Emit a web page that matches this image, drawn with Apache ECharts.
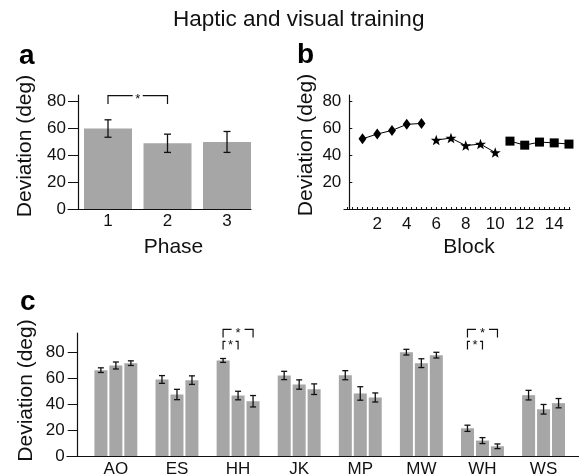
<!DOCTYPE html>
<html>
<head>
<meta charset="utf-8">
<script src="https://cdn.jsdelivr.net/npm/echarts@6/dist/echarts.min.js"></script>
<style>
  html, body { margin: 0; padding: 0; background: #fff; }
  #main { width: 579px; height: 476px; }
</style>
</head>
<body>
<div id="main"></div>
<script>
const FONT = '"Liberation Sans", Arial, Helvetica, sans-serif';
const BarColor = '#a6a6a6';
const Ink = '#111111';

// panel a: deviation per phase
const phases = [1, 2, 3];
const phaseMean = [60, 49, 50];
const phaseErr = [6.5, 6.8, 7.8];
// [from x, to x, bracket top, tick end]
const phaseSig = [[1, 2, 84.5, 78.3]];

// panel b: deviation per block
const blocksDiamond = [1, 2, 3, 4, 5];
const devDiamond = [52.3, 55.9, 58.6, 63.1, 63.8];
const blocksStar = [6, 7, 8, 9, 10];
const devStar = [51.4, 52.9, 47.3, 48.4, 42.1];
const blocksSquare = [11, 12, 13, 14, 15];
const devSquare = [50.6, 47.6, 49.9, 49.3, 48.4];
const blockLabels = [2, 4, 6, 8, 10, 12, 14];

// panel c: deviation per subject, one row per phase
const subjects = ['AO', 'ES', 'HH', 'JK', 'MP', 'MW', 'WH', 'WS'];
const subjMean = [
  [66.3, 59.1, 73.8, 62.2, 62.4, 80.2, 21.4, 47.0],
  [69.9, 47.5, 46.7, 55.2, 48.3, 71.7, 11.9, 36.1],
  [71.7, 58.6, 42.3, 51.6, 45.2, 77.9, 7.5, 40.8]
];
const subjErr = [
  [1.8, 3.0, 1.5, 3.2, 3.5, 2.2, 2.4, 3.7],
  [2.7, 4.0, 3.3, 3.6, 5.2, 3.4, 2.3, 3.7],
  [1.8, 3.3, 4.4, 4.1, 3.5, 2.2, 1.8, 3.6]
];
// [subject, from phase, to phase, bracket top, tick end]
const subjSig = [
  [2, 1, 3, 97.8, 91.6], [2, 1, 2, 88.5, 82.3],
  [6, 1, 3, 97.8, 91.6], [6, 1, 2, 88.5, 82.3]
];

const devTicks = [0, 20, 40, 60, 80];
const BarStep = 15; // px between bars of a subject group

var chart = echarts.init(document.getElementById('main'));

function errRender(capW, withPhase) {
  return function (params, api) {
    var x = api.value(0);
    var m = api.value(1), e = api.value(2);
    var dx = withPhase ? (api.value(3) - 2) * BarStep : 0;
    var top = api.coord([x, m + e]);
    var bot = api.coord([x, m - e]);
    var cx = top[0] + dx;
    var st = { stroke: Ink, lineWidth: 1.3 };
    return {
      type: 'group',
      children: [
        { type: 'line', shape: { x1: cx, y1: top[1], x2: cx, y2: bot[1] }, style: st },
        { type: 'line', shape: { x1: cx - capW / 2, y1: top[1], x2: cx + capW / 2, y2: top[1] }, style: st },
        { type: 'line', shape: { x1: cx - capW / 2, y1: bot[1], x2: cx + capW / 2, y2: bot[1] }, style: st }
      ]
    };
  };
}

function bracketShape(xa, xb, yt, yb, gap) {
  var mid = (xa + xb) / 2;
  var st = { stroke: Ink, lineWidth: 1.2, fill: null };
  return {
    type: 'group',
    children: [
      { type: 'polyline', shape: { points: [[xa, yb], [xa, yt], [mid - gap / 2, yt]] }, style: st },
      { type: 'polyline', shape: { points: [[mid + gap / 2, yt], [xb, yt], [xb, yb]] }, style: st },
      { type: 'text', x: mid, y: yt + 4, style: { text: '*', font: '13px ' + FONT, align: 'center', verticalAlign: 'middle', fill: Ink } }
    ]
  };
}

function sigRenderA(params, api) {
  var p1 = api.coord([api.value(0), api.value(2)]);
  var p2 = api.coord([api.value(1), api.value(3)]);
  return bracketShape(p1[0], p2[0], p1[1], p2[1], 10);
}

function sigRenderC(params, api) {
  var g = api.value(0);
  var p1 = api.coord([g, api.value(3)]);
  var p2 = api.coord([g, api.value(4)]);
  var xa = p1[0] + (api.value(1) - 2) * BarStep;
  var xb = p1[0] + (api.value(2) - 2) * BarStep;
  var gap = api.value(2) - api.value(1) > 1 ? 13 : 10;
  return bracketShape(xa, xb, p1[1], p2[1], gap);
}

var axisLine = { show: true, onZero: false, lineStyle: { color: Ink, width: 1.2 } };
var labelStyle = { color: Ink, fontSize: 17, fontFamily: FONT };
var nameStyle = { color: Ink, fontSize: 21, fontFamily: FONT };

var blockTickVals = [];
for (var t = 0; t <= 45; t++) blockTickVals.push(t / 3);

var series = [
  { type: 'bar', xAxisIndex: 0, yAxisIndex: 0, barWidth: 48, itemStyle: { color: BarColor },
    data: phases.map((p, i) => [p, phaseMean[i]]), silent: true },
  { type: 'custom', xAxisIndex: 0, yAxisIndex: 0, renderItem: errRender(7, false), clip: false,
    data: phases.map((p, i) => [p, phaseMean[i], phaseErr[i]]), z: 5 },
  { type: 'custom', xAxisIndex: 0, yAxisIndex: 0, renderItem: sigRenderA, clip: false,
    data: phaseSig, z: 5 },
  { type: 'line', xAxisIndex: 1, yAxisIndex: 1, symbol: 'diamond', symbolSize: [8, 11],
    itemStyle: { color: '#000' }, lineStyle: { color: '#000', width: 1 },
    data: blocksDiamond.map((b, i) => [b, devDiamond[i]]) },
  { type: 'line', xAxisIndex: 1, yAxisIndex: 1,
    symbol: 'path://M0,-10L2.35,-3.24L9.51,-3.09L3.8,1.24L5.88,8.09L0,4L-5.88,8.09L-3.8,1.24L-9.51,-3.09L-2.35,-3.24Z',
    symbolKeepAspect: true, symbolSize: 11,
    itemStyle: { color: '#000' }, lineStyle: { color: '#000', width: 1 },
    data: blocksStar.map((b, i) => [b, devStar[i]]) },
  { type: 'line', xAxisIndex: 1, yAxisIndex: 1, symbol: 'rect', symbolSize: 9,
    itemStyle: { color: '#000' }, lineStyle: { color: '#000', width: 1 },
    data: blocksSquare.map((b, i) => [b, devSquare[i]]) }
];

for (var k = 0; k < 3; k++) {
  series.push({
    type: 'bar', xAxisIndex: 2, yAxisIndex: 2, barWidth: 13, barGap: '15%',
    itemStyle: { color: BarColor },
    data: subjects.map((s, i) => [i, subjMean[k][i]])
  });
}
for (var k2 = 0; k2 < 3; k2++) {
  series.push({
    type: 'custom', xAxisIndex: 2, yAxisIndex: 2, renderItem: errRender(6, true), clip: false, z: 5,
    data: subjects.map((s, i) => [i, subjMean[k2][i], subjErr[k2][i], k2 + 1])
  });
}
series.push({ type: 'custom', xAxisIndex: 2, yAxisIndex: 2, renderItem: sigRenderC, clip: false, z: 5,
  data: subjSig });

var option = {
  animation: false,
  backgroundColor: '#fff',
  textStyle: { fontFamily: FONT },
  title: [
    { text: 'Haptic and visual training', left: 173, top: 8, padding: 0,
      textStyle: { fontSize: 22.5, fontWeight: 'normal', color: Ink, fontFamily: FONT } },
    { text: 'a', left: 19, top: 42, padding: 0, textStyle: { fontSize: 28, fontWeight: 'bold', color: '#000', fontFamily: FONT } },
    { text: 'b', left: 297, top: 41, padding: 0, textStyle: { fontSize: 28, fontWeight: 'bold', color: '#000', fontFamily: FONT } },
    { text: 'c', left: 20, top: 288, padding: 0, textStyle: { fontSize: 28, fontWeight: 'bold', color: '#000', fontFamily: FONT } }
  ],
  grid: [
    { left: 68, top: 95, width: 183, height: 114, outerBoundsMode: 'none' },
    { left: 344, top: 95, width: 226, height: 114, outerBoundsMode: 'none' },
    { left: 67, top: 333, width: 512, height: 123, outerBoundsMode: 'none' }
  ],
  xAxis: [
    { gridIndex: 0, type: 'value', min: 0.328, max: 3.403, axisLine: axisLine,
      axisTick: { show: false }, splitLine: { show: false },
      axisLabel: Object.assign({ customValues: phases, margin: 4 }, labelStyle),
      name: 'Phase', nameLocation: 'middle', nameGap: 28, nameMoveOverlap: false,
      nameTextStyle: Object.assign({ padding: [0, 0, 0, 28] }, nameStyle) },
    { gridIndex: 1, type: 'value', min: -0.254, max: 15.07, axisLine: axisLine,
      axisTick: { show: true, inside: true, length: 2, customValues: blockTickVals, lineStyle: { color: Ink } },
      splitLine: { show: false },
      axisLabel: Object.assign({ customValues: blockLabels, margin: 7 }, labelStyle),
      name: 'Block', nameLocation: 'middle', nameGap: 28, nameMoveOverlap: false,
      nameTextStyle: Object.assign({ padding: [0, 0, 0, 24] }, nameStyle) },
    { gridIndex: 2, type: 'value', min: -0.80, max: 7.58, axisLine: axisLine,
      axisTick: { show: false }, splitLine: { show: false },
      axisLabel: Object.assign({ customValues: subjects.map((s, i) => i), margin: 5,
        formatter: v => subjects[Math.round(v)] || '' }, labelStyle) }
  ],
  yAxis: [
    { gridIndex: 0, type: 'value', min: 0, max: 85, offset: -10, axisLine: axisLine,
      axisTick: { show: true, length: 10, customValues: devTicks, lineStyle: { color: Ink } },
      splitLine: { show: false },
      axisLabel: Object.assign({ customValues: devTicks, margin: 12 }, labelStyle),
      name: 'Deviation (deg)', nameLocation: 'middle', nameRotate: 90, nameGap: 42, nameMoveOverlap: false,
      nameTextStyle: Object.assign({ padding: [0, 0, 0, 12] }, nameStyle) },
    { gridIndex: 1, type: 'value', min: 0, max: 85, offset: -5.3, axisLine: axisLine,
      axisTick: { show: true, inside: true, length: 3, customValues: [20, 40, 60, 80], lineStyle: { color: Ink } },
      splitLine: { show: false },
      axisLabel: Object.assign({ customValues: [20, 40, 60, 80], margin: 8 }, labelStyle),
      name: 'Deviation (deg)', nameLocation: 'middle', nameRotate: 90, nameGap: 33, nameMoveOverlap: false,
      nameTextStyle: Object.assign({ padding: [0, 0, 0, 14] }, nameStyle) },
    { gridIndex: 2, type: 'value', min: 0, max: 95, offset: -10.7, axisLine: axisLine,
      axisTick: { show: true, length: 10, customValues: devTicks, lineStyle: { color: Ink } },
      splitLine: { show: false },
      axisLabel: Object.assign({ customValues: devTicks, margin: 13 }, labelStyle),
      name: 'Deviation (deg)', nameLocation: 'middle', nameRotate: 90, nameGap: 41, nameMoveOverlap: false,
      nameTextStyle: Object.assign({ padding: [0, 0, 0, 8] }, nameStyle) }
  ],
  series: series
};

chart.setOption(option);
</script>
</body>
</html>
